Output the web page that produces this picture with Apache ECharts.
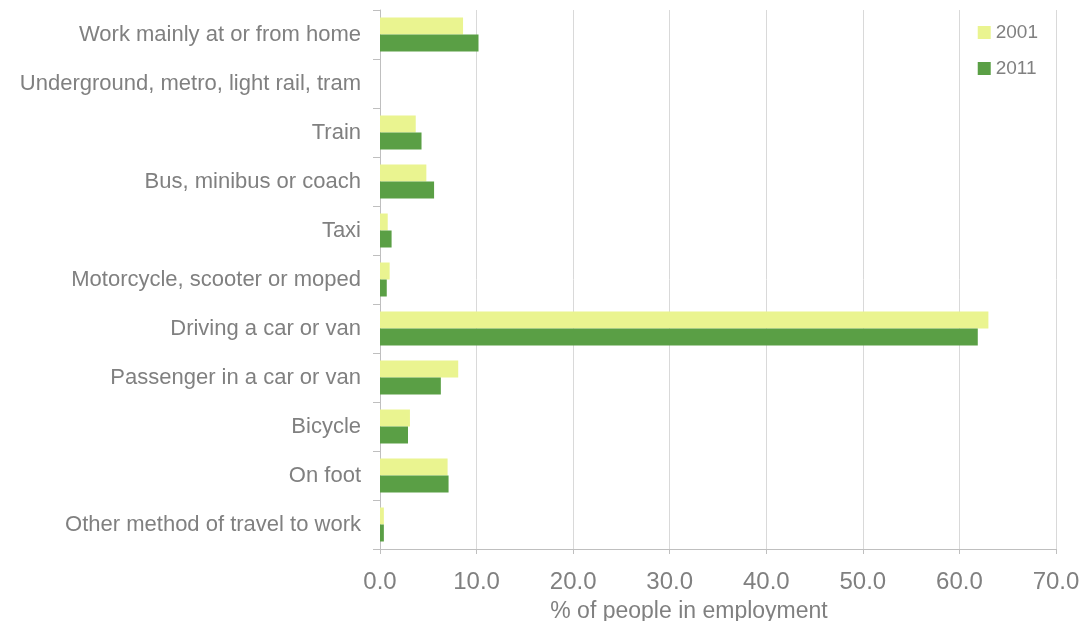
<!DOCTYPE html>
<html>
<head>
<meta charset="utf-8">
<script src="https://cdn.jsdelivr.net/npm/echarts@6/dist/echarts.min.js"></script>
<style>
  html, body { margin: 0; padding: 0; background: #fff; }
  #chart { width: 1079px; height: 621px; }
</style>
</head>
<body>
<div id="chart"></div>
<script>
  // categories, top to bottom
  var categories = [
    'Work mainly at or from home',
    'Underground, metro, light rail, tram',
    'Train',
    'Bus, minibus or coach',
    'Taxi',
    'Motorcycle, scooter or moped',
    'Driving a car or van',
    'Passenger in a car or van',
    'Bicycle',
    'On foot',
    'Other method of travel to work'
  ];
  var values2001 = [8.6, 0, 3.7, 4.8, 0.8, 1.0, 63.0, 8.1, 3.1, 7.0, 0.4];
  var values2011 = [10.2, 0, 4.3, 5.6, 1.2, 0.7, 61.9, 6.3, 2.9, 7.1, 0.4];

  var textColor = '#808080';
  var chart = echarts.init(document.getElementById('chart'));
  chart.setOption({
    animation: false,
    textStyle: { fontFamily: 'Liberation Sans, Arial, sans-serif' },
    grid: {
      left: 380, right: 23, top: 10, bottom: 72,
      containLabel: false,
      outerBoundsMode: 'none'
    },
    legend: {
      orient: 'vertical',
      right: 36,
      top: 18,
      itemWidth: 13,
      itemHeight: 13,
      itemGap: 17,
      icon: 'rect',
      textStyle: { color: textColor, fontSize: 19 },
      data: ['2001', '2011']
    },
    xAxis: {
      type: 'value',
      min: 0,
      max: 70,
      interval: 10,
      name: '% of people in employment',
      nameLocation: 'middle',
      nameGap: 51,
      nameTextStyle: { color: textColor, fontSize: 23, padding: [0, 58, 0, 0] },
      axisLine: { show: true, lineStyle: { color: '#bfbfbf' } },
      axisTick: { show: true, length: 5, lineStyle: { color: '#bfbfbf' } },
      axisLabel: {
        color: textColor, fontSize: 24, margin: 21,
        formatter: function (v) { return v.toFixed(1); }
      },
      splitLine: { show: true, lineStyle: { color: '#d9d9d9' } }
    },
    yAxis: {
      type: 'category',
      inverse: true,
      data: categories,
      axisLine: { show: true, lineStyle: { color: '#bfbfbf' } },
      axisTick: { show: true, length: 7, lineStyle: { color: '#bfbfbf' } },
      axisLabel: { color: textColor, fontSize: 22, margin: 19 }
    },
    series: [
      {
        name: '2001',
        type: 'bar',
        data: values2001,
        barWidth: 17,
        barGap: '0%',
        itemStyle: { color: '#eaf490' }
      },
      {
        name: '2011',
        type: 'bar',
        data: values2011,
        barWidth: 17,
        barGap: '0%',
        itemStyle: { color: '#5a9f45' }
      }
    ]
  });
</script>
</body>
</html>
